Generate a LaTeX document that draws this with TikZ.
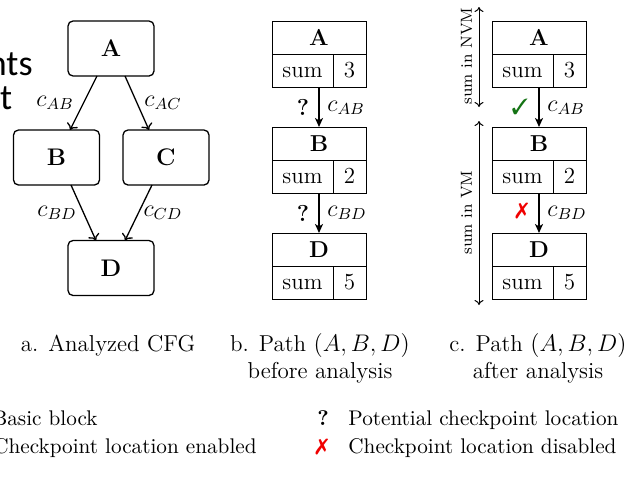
\documentclass[tikz,border=0pt]{standalone}
\usepackage{fontspec}
\newfontfamily\carlito{Carlito}
\usepackage{pifont}
\usetikzlibrary{arrows.meta}
\definecolor{ckgreen}{RGB}{20,115,20}
\definecolor{ckred}{RGB}{240,0,0}
\tikzset{
  cfgbox/.style={draw, rounded corners=2.5pt, line width=0.65pt, minimum width=43pt, minimum height=27.5pt, inner sep=0pt, outer sep=0pt, font=\fontsize{12}{14}\selectfont\bfseries},
  cfgarr/.style={line width=0.65pt, -{To[length=3pt,width=6pt]}},
  ttlcell/.style={draw, line width=0.5pt, minimum width=47pt, minimum height=16.5pt, inner sep=0pt, outer sep=0pt, font=\fontsize{11.5}{14}\selectfont\bfseries},
  sumcell/.style={draw, line width=0.5pt, minimum width=30.5pt, minimum height=16.5pt, inner sep=0pt, outer sep=0pt, text height=7pt, text depth=0pt, font=\fontsize{11.5}{14}\selectfont},
  numcell/.style={sumcell, minimum width=16.5pt},
  patharr/.style={line width=0.75pt, -{Stealth[length=4.5pt,width=4pt,inset=1.2pt]}},
  lbl/.style={font=\fontsize{11.5}{14}\selectfont, inner sep=0pt},
  captext/.style={font=\fontsize{11.5}{14}\selectfont, anchor=base, inner sep=0pt},
  legtext/.style={font=\fontsize{10.6}{13}\selectfont, anchor=base, inner sep=0pt},
  spanarr/.style={line width=0.5pt, {To[length=2.5pt,width=4.5pt]}-{To[length=2.5pt,width=4.5pt]}},
  sidelbl/.style={font=\fontsize{8}{10}\selectfont, rotate=90, inner sep=0pt},
  frag/.style={font=\carlito\fontsize{18}{22}\selectfont, anchor=base east, inner sep=0pt},
}
\begin{document}
\begin{tikzpicture}[x=0.5pt,y=-0.5pt]
\useasboundingbox (0,0) rectangle (630,477);
\clip (0,0) rectangle (630,477);

% cut-off fragments at the left
\node[frag] (frag1) at (33,75) {nts};
\node[frag] (frag2) at (12.5,109) {t};

% a. analyzed CFG
\node[cfgbox] (A) at (111,48.5) {A};
\node[cfgbox] (B) at (56.5,157.5) {B};
\node[cfgbox] (C) at (166,157.5) {C};
\node[cfgbox] (D) at (111,268) {D};
\draw[cfgarr] ([xshift=-7pt]A.south) -- ([xshift=6.75pt]B.north);
\draw[cfgarr] ([xshift=7pt]A.south) -- ([xshift=-8.5pt]C.north);
\draw[cfgarr] ([xshift=7.25pt]B.south) -- ([xshift=-7.5pt]D.north);
\draw[cfgarr] ([xshift=-7pt]C.south) -- ([xshift=7pt]D.north);
\node[lbl] (lab) at (55,103) {$c_{AB}$};
\node[lbl] (lac) at (163,103) {$c_{AC}$};
\node[lbl] (lbd) at (57,213) {$c_{BD}$};
\node[lbl] (lcd) at (163,213) {$c_{CD}$};

% b. path before analysis
\node[ttlcell] (bA) at (319,37.5) {A};
\node[sumcell] (bAs) at (302.5,70.5) {sum};
\node[numcell] (bAn) at (349.5,70.5) {3};
\node[ttlcell] (bB) at (319,143.5) {B};
\node[sumcell] (bBs) at (302.5,176.5) {sum};
\node[numcell] (bBn) at (349.5,176.5) {2};
\node[ttlcell] (bD) at (319,249.5) {D};
\node[sumcell] (bDs) at (302.5,282.5) {sum};
\node[numcell] (bDn) at (349.5,282.5) {5};
\draw[patharr] (bA.center |- bAs.south) -- (bB.north);
\draw[patharr] (bB.center |- bBs.south) -- (bD.north);
\node[lbl, font=\fontsize{11.5}{14}\selectfont\bfseries] (bq1) at (303,107) {?};
\node[lbl, anchor=west] (bc1) at (327,108) {$c_{AB}$};
\node[lbl, font=\fontsize{11.5}{14}\selectfont\bfseries] (bq2) at (303,213) {?};
\node[lbl, anchor=west] (bc2) at (327,213) {$c_{BD}$};

% c. path after analysis
\node[ttlcell] (cA) at (539,37.5) {A};
\node[sumcell] (cAs) at (522.5,70.5) {sum};
\node[numcell] (cAn) at (569.5,70.5) {3};
\node[ttlcell] (cB) at (539,143.5) {B};
\node[sumcell] (cBs) at (522.5,176.5) {sum};
\node[numcell] (cBn) at (569.5,176.5) {2};
\node[ttlcell] (cD) at (539,249.5) {D};
\node[sumcell] (cDs) at (522.5,282.5) {sum};
\node[numcell] (cDn) at (569.5,282.5) {5};
\draw[patharr] (cA.center |- cAs.south) -- (cB.north);
\draw[patharr] (cB.center |- cBs.south) -- (cD.north);
\node[lbl, text=ckgreen, font=\fontsize{11}{13}\selectfont] (cok) at (520,107) {\ding{51}};
\node[lbl, anchor=west] (cc1) at (547,108) {$c_{AB}$};
\node[lbl, text=ckred, font=\fontsize{11}{13}\selectfont] (cno) at (522,211) {\ding{55}};
\node[lbl, anchor=west] (cc2) at (547,213) {$c_{BD}$};
\coordinate (nvmT) at (479,7);
\coordinate (nvmB) at (479,107);
\coordinate (vmT) at (479,121);
\coordinate (vmB) at (479,305);
\draw[spanarr] (nvmT) -- (nvmB);
\draw[spanarr] (vmT) -- (vmB);
\node[sidelbl] (snvm) at (466.5,56) {sum in NVM};
\node[sidelbl] (svm) at (466.5,212.5) {sum in VM};

% captions
\node[captext] (capa) at (108,351) {a. Analyzed CFG};
\node[captext] (capb1) at (320,351) {b. Path $(A,B,D)$};
\node[captext] (capb2) at (320,378) {before analysis};
\node[captext] (capc1) at (538,351) {c. Path $(A,B,D)$};
\node[captext] (capc2) at (538,378) {after analysis};

% legend
\node[legtext, anchor=base east] (leg1) at (98,425) {Basic block};
\node[legtext, anchor=base east] (leg2) at (257,453) {Checkpoint location enabled};
\node[legtext, font=\fontsize{10.6}{13}\selectfont\bfseries] (leg3s) at (323,425) {?};
\node[legtext, anchor=base west] (leg3) at (348,425) {Potential checkpoint location};
\node[legtext, text=ckred, font=\fontsize{11}{13}\selectfont] (leg4s) at (322,453) {\ding{55}};
\node[legtext, anchor=base west] (leg4) at (348,453) {Checkpoint location disabled};
\end{tikzpicture}
\end{document}
